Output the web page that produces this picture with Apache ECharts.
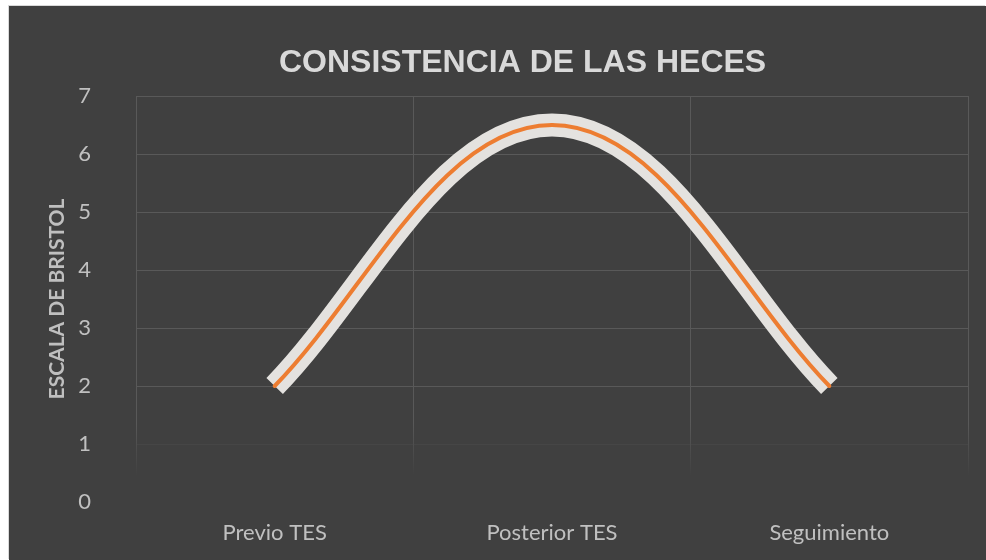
<!DOCTYPE html>
<html>
<head>
<meta charset="utf-8">
<script src="https://cdn.jsdelivr.net/npm/echarts@6/dist/echarts.min.js"></script>
<style>
  html, body { margin: 0; padding: 0; background: #ffffff; }
  #chart {
    position: absolute; left: 9px; top: 6px; width: 977px; height: 554px;
    box-shadow: -1px -1px 0 #d9d9d9;
  }
</style>
</head>
<body>
<div id="chart"></div>
<script>
// datos
const categories = ['Previo TES', 'Posterior TES', 'Seguimiento'];
const bristol = [2, 6.5, 2];
const titleText = 'CONSISTENCIA DE LAS HECES';
const yName = 'ESCALA DE BRISTOL';

const chart = echarts.init(document.getElementById('chart'));

// suavizado tipo Excel: cada tramo es una bezier entre dos puntos
function segmentShape(api, i) {
  const pts = bristol.map((v, k) => api.coord([k, v]));
  const n = pts.length;
  const p0 = pts[i], p1 = pts[i + 1];
  let c1, c2;
  if (i === 0) {
    c1 = [p0[0] + (p1[0] - p0[0]) * 0.33, p0[1] + (p1[1] - p0[1]) * 0.36];
  } else {
    const a = pts[i - 1];
    c1 = [p0[0] + (p1[0] - a[0]) * 0.2, p0[1] + (p1[1] - a[1]) * 0.2];
  }
  if (i + 1 === n - 1) {
    c2 = [p1[0] - (p1[0] - p0[0]) * 0.33, p1[1] - (p1[1] - p0[1]) * 0.36];
  } else {
    const b = pts[i + 2];
    c2 = [p1[0] - (b[0] - p0[0]) * 0.2, p1[1] - (b[1] - p0[1]) * 0.2];
  }
  return {
    x1: p0[0], y1: p0[1], x2: p1[0], y2: p1[1],
    cpx1: c1[0], cpy1: c1[1], cpx2: c2[0], cpy2: c2[1]
  };
}

function curveSeries(color, width, cap, z) {
  return {
    type: 'custom',
    data: bristol.map((v, i) => [i, v]),
    encode: { x: 0, y: 1 },
    z: z,
    silent: true,
    renderItem: (params, api) => {
      const i = params.dataIndex;
      if (i >= bristol.length - 1) return null;
      return {
        type: 'bezierCurve',
        shape: segmentShape(api, i),
        style: { stroke: color, lineWidth: width, fill: null, lineCap: cap, lineJoin: 'round' }
      };
    }
  };
}

// líneas verticales que se desvanecen hacia abajo
const vFade = new echarts.graphic.LinearGradient(0, 90, 0, 470, [
  { offset: 0, color: '#595959' },
  { offset: 0.86, color: '#595959' },
  { offset: 1, color: '#404040' }
], true);

chart.setOption({
  backgroundColor: '#404040',
  animation: false,
  title: {
    text: titleText,
    left: 265,
    top: 36,
    textStyle: {
      fontFamily: 'Liberation Sans',
      fontSize: 32,
      fontWeight: 'bold',
      color: '#d9d9d9'
    }
  },
  grid: { left: 127, right: 18, top: 90, bottom: 58 },
  xAxis: {
    type: 'category',
    data: categories,
    boundaryGap: true,
    axisLine: { show: false },
    axisTick: { show: false },
    axisLabel: {
      color: '#c0c0c0',
      fontFamily: 'Lato',
      fontSize: 22,
      margin: 20
    },
    splitLine: { show: true, lineStyle: { color: vFade, width: 1 } }
  },
  yAxis: {
    type: 'value',
    min: 0,
    max: 7,
    interval: 1,
    name: yName,
    nameLocation: 'middle',
    nameGap: 65,
    nameTextStyle: {
      color: '#bfbfbf',
      fontFamily: 'Lato',
      fontWeight: 'bold',
      fontSize: 21
    },
    axisLine: { show: false },
    axisTick: { show: false },
    axisLabel: {
      color: '#c0c0c0',
      fontFamily: 'Lato',
      fontSize: 22,
      margin: 45
    },
    splitLine: {
      show: true,
      lineStyle: {
        color: ['#404040', '#464646', '#595959', '#595959', '#595959', '#595959', '#595959', '#595959'],
        width: 1
      }
    }
  },
  series: [
    curveSeries('#e4e2df', 23, 'butt', 2),   // halo claro
    curveSeries('#ed7d31', 4, 'round', 3)    // línea naranja
  ]
});
</script>
</body>
</html>
